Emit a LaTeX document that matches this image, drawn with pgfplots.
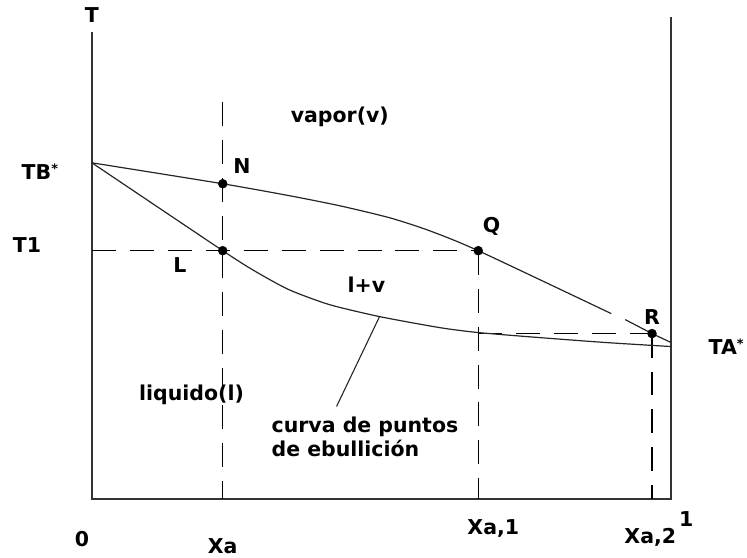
\documentclass[border=0pt]{standalone}
\usepackage{pgfplots}
\pgfplotsset{compat=1.18}
\usepackage{fontspec}
\setmainfont{DejaVu Sans}

% Temperature-composition diagram of a binary mixture (boiling and dew curves)
\pgfplotstableread{
x      T
0      3.37
0.2259 2.49
0.2800 2.29
0.3400 2.10
0.4100 1.95
0.4966 1.83
0.6000 1.72
0.6670 1.67
0.7724 1.62
0.8879 1.57
1      1.53
}\bubble

\pgfplotstableread{
x      T
0      3.37
0.2259 3.16
0.3414 3.04
0.4276 2.94
0.5138 2.82
0.5828 2.69
0.6670 2.49
0.8966 1.86
}\dewmain

\begin{document}
\begin{tikzpicture}[every node/.style={font=\fontsize{20.5}{24}\selectfont\bfseries}]
\begin{axis}[
  scale only axis, width=580pt, height=483pt,
  xmin=0, xmax=1, ymin=0, ymax=4.83,
  axis lines=none, clip=false,
  tie/.style={black, line width=1.1pt, dash pattern=on 24pt off 14pt},
  curve/.style={black!85, line width=1.2pt},
]
\coordinate (O) at (axis cs:0,0);
% frame: temperature axis, composition axis and pure-A side
\addplot[black!80, line width=1.8pt] coordinates {(0,4.68) (0,0) (1,0) (1,4.83)};

% tie lines and composition markers
\addplot[tie] coordinates {(0.2259,3.98) (0.2259,0)};
\addplot[tie] coordinates {(0,2.49) (0.667,2.49)};
\addplot[tie] coordinates {(0.667,2.49) (0.667,0)};
\addplot[tie] coordinates {(0.667,1.66) (0.967,1.66)};
\addplot[tie] coordinates {(0.967,1.66) (0.967,0)};

% boiling-point (liquid) curve
\addplot[curve, smooth, tension=0.4] table[x=x,y=T] {\bubble};
% dew-point (vapour) curve
\addplot[curve, smooth, tension=0.4] table[x=x,y=T] {\dewmain};
\addplot[curve] coordinates {(0.9207,1.80) (0.967,1.66) (1,1.57)};

% leader line to the boiling curve
\addplot[black!85, line width=1.1pt] coordinates {(0.4966,1.83) (0.4224,0.93)};

% marked states
\addplot[only marks, mark=*, mark size=4.5pt, black] coordinates {
  (0.2259,3.16) (0.2259,2.49) (0.667,2.49) (0.967,1.66)};

% labels
\node at (axis cs:0,4.85) {T};
\node at (axis cs:-0.0897,3.28) {TB\raisebox{0.3em}{\fontsize{13}{13}\selectfont*}};
\node at (axis cs:-0.112,2.55) {T1};
\node at (axis cs:0.152,2.35) {L};
\node at (axis cs:0.259,3.34) {N};
\node at (axis cs:0.428,3.83) {vapor(v)};
\node at (axis cs:0.690,2.73) {Q};
\node at (axis cs:0.967,1.83) {R};
\node at (axis cs:1.095,1.53) {TA\raisebox{0.3em}{\fontsize{13}{13}\selectfont*}};
\node at (axis cs:0.474,2.15) {l+v};
\node at (axis cs:0.172,1.05) {liquido(l)};
\node[anchor=west, align=left, inner sep=0pt] at (axis cs:0.310,0.63) {curva de puntos\\de ebullición};
\node at (axis cs:-0.017,-0.40) {0};
\node at (axis cs:0.2259,-0.47) {Xa};
\node at (axis cs:0.693,-0.29) {Xa,1};
\node at (axis cs:0.964,-0.38) {Xa,2};
\node at (axis cs:1.026,-0.20) {1};
\end{axis}
\path[use as bounding box] ([shift={(-92pt,-57pt)}]O) rectangle ([shift={(655pt,500pt)}]O);
\end{tikzpicture}
\end{document}
